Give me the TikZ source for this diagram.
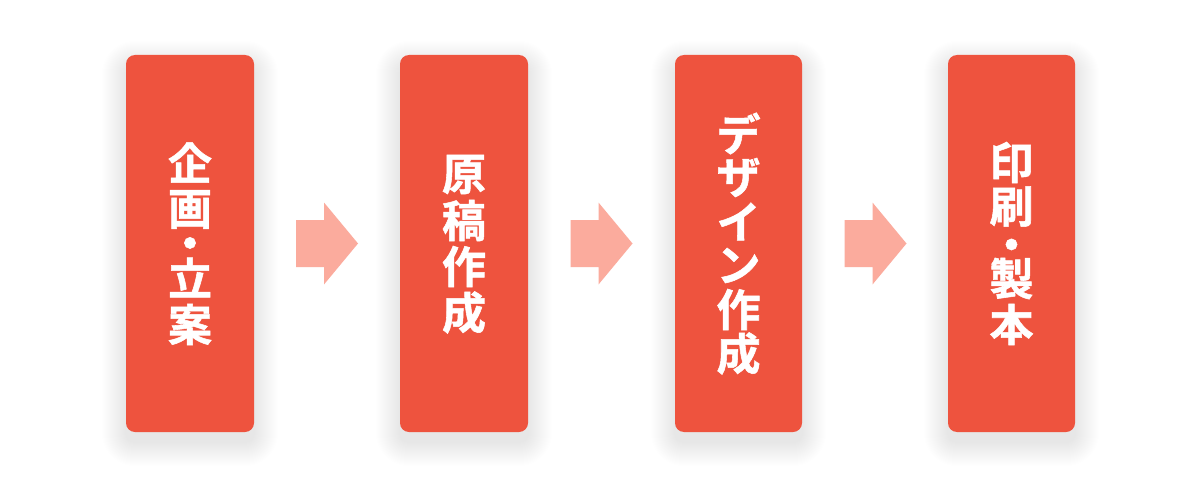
\documentclass[tikz,border=0pt]{standalone}
\usepackage{fontspec}
\newfontfamily\jpfont{Noto Sans CJK JP}[BoldFont=* Bold, BoldFeatures={FakeBold=1.2}]
\definecolor{boxred}{HTML}{EE533E}
\definecolor{arrowpink}{HTML}{FBAB9D}
\tikzset{
  stepbox/.style={fill=boxred, rounded corners=9pt, draw=none},
  shadowlayer/.style={fill=black, fill opacity=0.0035, draw=none},
  stepchar/.style={text=white, inner sep=0pt, anchor=center,
    font=\jpfont\bfseries\fontsize{44}{46}\selectfont},
  flowarrow/.style={fill=arrowpink, draw=none}
}
\newcommand{\shadowbox}[4]{% x1 y1 x2 y2
  \foreach \k in {1,...,24}{
    \pgfmathsetmacro{\rr}{9+\k}
    \fill[shadowlayer, rounded corners=\rr pt] (#1-\k,#2-\k+10) rectangle (#3+\k,#4+\k+10);
  }
}
\newcommand{\flowarr}[2]{% #1 = left x of arrow, #2 = name
  \fill[flowarrow] (#1,220) -- (#1+28,220) -- (#1+28,202.5) -- (#1+62,243.5)
    -- (#1+28,284.5) -- (#1+28,267) -- (#1,267) -- cycle;
  \coordinate (#2) at (#1+31,243.5);
}
\begin{document}
\begin{tikzpicture}[x=1pt,y=-1pt]
  \useasboundingbox (0,0) rectangle (1200,487);
  \fill[white] (0,0) rectangle (1200,487);
  % shadows
  \shadowbox{126}{55}{254}{432}
  \shadowbox{400}{55}{528}{432}
  \shadowbox{675}{55}{802}{432}
  \shadowbox{948}{55}{1075}{432}
  % boxes
  \path[stepbox] (126,55) rectangle (254,432);
  \path[stepbox] (400,55) rectangle (528,432);
  \path[stepbox] (675,55) rectangle (802,432);
  \path[stepbox] (948,55) rectangle (1075,432);
  % box 1
  \node[stepchar] (c11) at (190,162.5) {企};
  \node[stepchar] (c12) at (190,209.5) {画};
  \node[stepchar] (c13) at (190,248.5) {・};
  \node[stepchar] (c14) at (190,277.5) {立};
  \node[stepchar] (c15) at (190,324.5) {案};
  % box 2
  \node[stepchar] (c21) at (464,174.5) {原};
  \node[stepchar] (c22) at (464,220.5) {稿};
  \node[stepchar] (c23) at (464,266.5) {作};
  \node[stepchar] (c24) at (464,312.5) {成};
  % box 3
  \node[stepchar] (c31) at (738.5,133.5) {デ};
  \node[stepchar] (c32) at (738.5,177.5) {ザ};
  \node[stepchar] (c33) at (738.5,221.5) {イ};
  \node[stepchar] (c34) at (738.5,265.5) {ン};
  \node[stepchar] (c35) at (738.5,309.5) {作};
  \node[stepchar] (c36) at (738.5,353.5) {成};
  % box 4
  \node[stepchar] (c41) at (1011.5,162.5) {印};
  \node[stepchar] (c42) at (1011.5,206.5) {刷};
  \node[stepchar] (c43) at (1011.5,250) {・};
  \node[stepchar] (c44) at (1011.5,278.5) {製};
  \node[stepchar] (c45) at (1011.5,324.5) {本};
  % arrows
  \flowarr{296}{a1}
  \flowarr{570.5}{a2}
  \flowarr{844.5}{a3}
\end{tikzpicture}
\end{document}
